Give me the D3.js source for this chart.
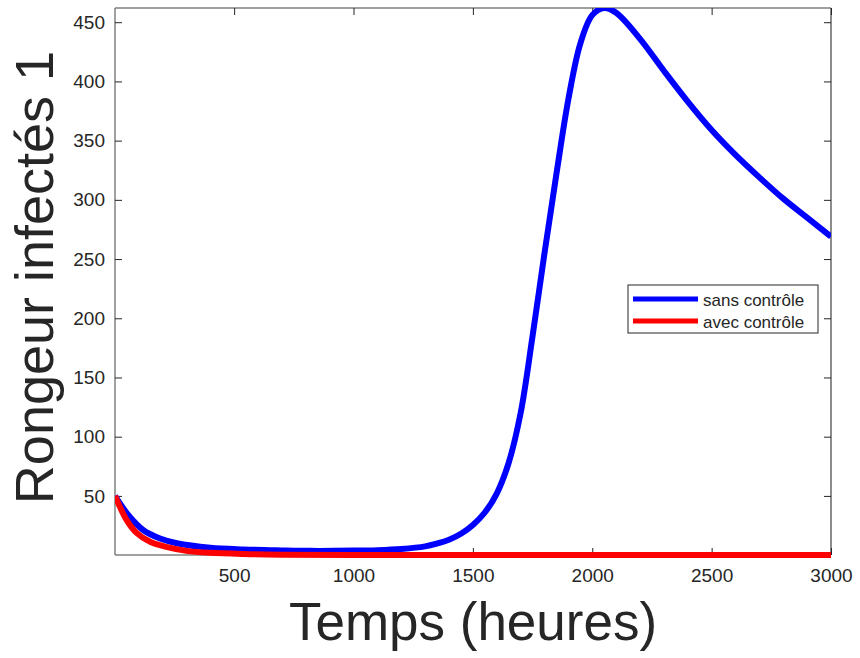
<!DOCTYPE html>
<html>
<head>
<meta charset="utf-8">
<title>Rongeur infectés 1</title>
<script src="https://cdn.jsdelivr.net/npm/d3@7/dist/d3.min.js"></script>
<style>
  body { margin: 0; background: #fff; }
  text { font-family: "Liberation Sans", Arial, sans-serif; fill: #262626; }
</style>
</head>
<body>
<script>
// données
var tempsSans = [1, 60, 120, 190, 260, 400, 540, 700, 820, 1000, 1100, 1200, 1300, 1350, 1400,
                 1450, 1500, 1550, 1600, 1650, 1700, 1750, 1800, 1850, 1900, 1950, 2000,
                 2050, 2100, 2200, 2300, 2400, 2500, 2600, 2700, 2800, 2900, 3000];
var valSans = [50, 33, 21, 14, 10, 6.2, 4.8, 4, 3.6, 3.8, 4.2, 5.2, 7.4, 9.8, 13,
               18, 25.5, 36, 52, 78, 120, 185, 255, 322, 385, 432, 456,
               462, 458, 436, 409, 383, 359, 338, 319, 301, 285, 269];
var tempsAvec = [1, 50, 90, 150, 220, 300, 400, 540, 700, 1000, 2000, 3000];
var valAvec = [50, 29.5, 19, 11, 6.8, 3.6, 1.9, 0.9, 0.4, 0.2, 0.1, 0.1];
var xTicks = [500, 1000, 1500, 2000, 2500, 3000];
var yTicks = [50, 100, 150, 200, 250, 300, 350, 400, 450];
var legende = ["sans contrôle", "avec contrôle"];
var couleurs = ["#0000ff", "#ff0000"];

var W = 860, H = 658;
var pLeft = 115, pRight = 831, pTop = 8, pBottom = 555;

var svg = d3.select("body").append("svg").attr("width", W).attr("height", H);

var x = d3.scaleLinear().domain([1, 3000]).range([pLeft, pRight]);
var y = d3.scaleLinear().domain([0.1, 462]).range([pBottom, pTop]);

svg.append("defs").append("clipPath").attr("id", "clip")
  .append("rect").attr("x", pLeft).attr("y", pTop)
  .attr("width", pRight - pLeft).attr("height", pBottom - pTop + 3);

// cadre
svg.append("line").attr("x1", pLeft).attr("x2", pRight).attr("y1", pTop).attr("y2", pTop)
  .attr("stroke", "#404040").attr("stroke-width", 1.2);
svg.append("line").attr("x1", pRight).attr("x2", pRight).attr("y1", pTop).attr("y2", pBottom)
  .attr("stroke", "#404040").attr("stroke-width", 1.2);
svg.append("line").attr("x1", pLeft).attr("x2", pLeft).attr("y1", pTop).attr("y2", pBottom)
  .attr("stroke", "#808080").attr("stroke-width", 1.5);
svg.append("line").attr("x1", pLeft).attr("x2", pRight).attr("y1", pBottom).attr("y2", pBottom)
  .attr("stroke", "#808080").attr("stroke-width", 1.5);

// graduations (vers l'intérieur, des deux côtés)
var fmt = d3.format("d");
var xAxis = d3.axisBottom(x).tickValues(xTicks).tickFormat(fmt)
  .tickSizeInner(-7).tickSizeOuter(0).tickPadding(14);
var gx = svg.append("g").attr("transform", "translate(0," + pBottom + ")").call(xAxis);
gx.select(".domain").remove();
gx.selectAll("line").attr("stroke", "#262626");
gx.selectAll("text").style("font-size", "19px").attr("fill", "#262626");
var gx2 = svg.append("g").attr("transform", "translate(0," + pTop + ")")
  .call(d3.axisTop(x).tickValues(xTicks).tickSizeInner(-7).tickSizeOuter(0).tickFormat(""));
gx2.select(".domain").remove();
gx2.selectAll("line").attr("stroke", "#262626");

var yAxis = d3.axisLeft(y).tickValues(yTicks).tickFormat(fmt)
  .tickSizeInner(-7).tickSizeOuter(0).tickPadding(10);
var gy = svg.append("g").attr("transform", "translate(" + pLeft + ",0)").call(yAxis);
gy.select(".domain").remove();
gy.selectAll("line").attr("stroke", "#262626");
gy.selectAll("text").style("font-size", "19px").attr("fill", "#262626");
var gy2 = svg.append("g").attr("transform", "translate(" + pRight + ",0)")
  .call(d3.axisRight(y).tickValues(yTicks).tickSizeInner(-7).tickSizeOuter(0).tickFormat(""));
gy2.select(".domain").remove();
gy2.selectAll("line").attr("stroke", "#262626");

// courbes
var ligne = d3.line()
  .x(function (d) { return x(d[0]); })
  .y(function (d) { return y(d[1]); })
  .curve(d3.curveCatmullRom.alpha(0.5));

var series = [d3.zip(tempsSans, valSans), d3.zip(tempsAvec, valAvec)];
svg.append("g").attr("clip-path", "url(#clip)")
  .selectAll("path").data(series).enter().append("path")
  .attr("d", ligne)
  .attr("fill", "none")
  .attr("stroke", function (d, i) { return couleurs[i]; })
  .attr("stroke-width", 6)
  .attr("stroke-linejoin", "round");

// titres des axes
svg.append("text").attr("x", (pLeft + pRight) / 2).attr("y", 640)
  .attr("text-anchor", "middle").style("font-size", "53px").text("Temps (heures)");
svg.append("text")
  .attr("transform", "translate(53," + ((pTop + pBottom) / 2 - 4) + ") rotate(-90)")
  .attr("text-anchor", "middle").style("font-size", "54px").text("Rongeur infectés 1");

// légende
var leg = svg.append("g");
leg.append("rect").attr("x", 628).attr("y", 285).attr("width", 190).attr("height", 48)
  .attr("fill", "#fff").attr("stroke", "#262626").attr("stroke-width", 1);
legende.forEach(function (nom, i) {
  var yy = 299 + i * 22;
  leg.append("line").attr("x1", 633).attr("x2", 698).attr("y1", yy).attr("y2", yy)
    .attr("stroke", couleurs[i]).attr("stroke-width", 5);
  leg.append("text").attr("x", 703).attr("y", yy + 7)
    .style("font-size", "17px").attr("fill", "#000").text(nom);
});
</script>
</body>
</html>
